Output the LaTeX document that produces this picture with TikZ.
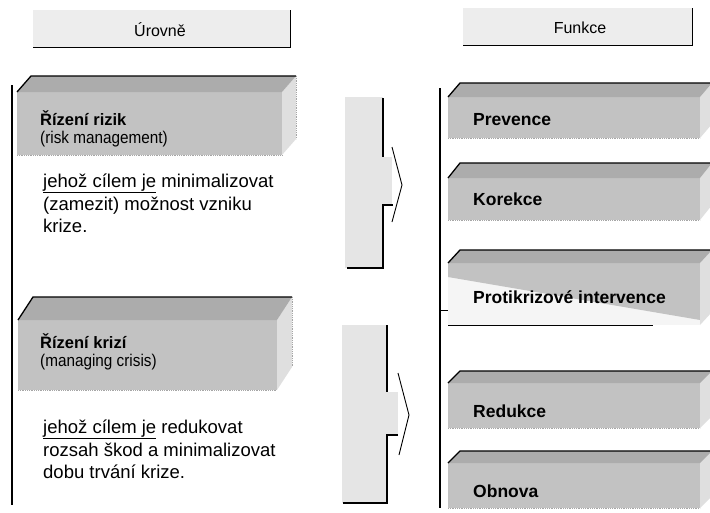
\documentclass[tikz,border=0pt]{standalone}
\usepackage{fontspec}
\setmainfont{Liberation Sans}
\newfontfamily\subfont{Liberation Sans}[FakeStretch=0.9]
\tikzset{
  topface/.style={fill=gray!65},
  frontface/.style={fill=gray!48},
  sideface/.style={fill=gray!25},
  header/.style={fill=gray!14},
  strip/.style={fill=gray!20},
  edge/.style={line width=1.3pt, black},
  thinedge/.style={line width=0.9pt, black},
  ltitle/.style={anchor=base west, inner sep=0pt, font=\fontsize{16.5}{20}\selectfont\bfseries},
  lsub/.style={anchor=base west, inner sep=0pt, font=\subfont\fontsize{17}{20}\selectfont},
  desc/.style={anchor=base west, inner sep=0pt, font=\fontsize{18.5}{23}\selectfont},
  rtitle/.style={anchor=base west, inner sep=0pt, font=\fontsize{17.5}{22}\selectfont\bfseries},
  htext/.style={anchor=base, inner sep=0pt, font=\fontsize{16}{20}\selectfont},
}
% x1 x2 yback yfront ybottom dx
\newcommand\drawslab[6]{%
  \fill[frontface] (#1,#4) rectangle (#2,#5);
  \fill[sideface] (#2,#4) -- ({#2+#6},#3) -- ({#2+#6},{#5-(#4-#3)}) -- (#2,#5) -- cycle;
  \fill[topface] (#1,#4) -- ({#1+#6},#3) -- ({#2+#6},#3) -- (#2,#4) -- cycle;
  \draw[edge] (#1,#4) -- ({#1+#6},#3) -- ({#2+#6},#3);
  \draw[gray!70, densely dotted, line width=0.8pt] (#1,#5) -- (#2,#5);
  \draw[gray!70, densely dotted, line width=0.8pt] ({#2+#6},#3) -- ({#2+#6},{#5-(#4-#3)});
}
\begin{document}
\begin{tikzpicture}[x=1pt,y=-1pt]
\useasboundingbox (0,0) rectangle (710,512);
\fill[white] (0,0) rectangle (710,512);

% ---- headers
\fill[header] (33,10) rectangle (290,47);
\draw[thinedge] (33,47) -- (290,47) -- (290,10);
\node[htext] (hU) at (160,36) {Úrovně};
\fill[header] (463,8) rectangle (692,45);
\draw[thinedge] (463,45) -- (692,45) -- (692,8);
\node[htext] (hF) at (580,33) {Funkce};

% ---- left column
\draw[line width=2.4pt] (12,85) -- (12,505);

\drawslab{17}{282}{76}{92}{155}{14}
\node[ltitle] (t1) at (40,125) {Řízení rizik};
\node[lsub] (s1) at (40,143) {(risk management)};
\node[desc] (d1a) at (43,187) {\underline{jehož cílem je} minimalizovat};
\node[desc] (d1b) at (43,210) {(zamezit) možnost vzniku};
\node[desc] (d1c) at (43,232) {krize.};

\drawslab{18}{277}{297}{320}{390}{15}
\node[ltitle] (t2) at (40,348) {Řízení krizí};
\node[lsub] (s2) at (40,366) {(managing crisis)};
\node[desc] (d2a) at (43,433) {\underline{jehož cílem je} redukovat};
\node[desc] (d2b) at (43,456) {rozsah škod a minimalizovat};
\node[desc] (d2c) at (43,478) {dobu trvání krize.};

% ---- arrows
\fill[strip] (345,97) rectangle (383,268);
\fill[strip] (383,157) rectangle (392,205);
\draw[edge] (383,98) -- (383,157);
\draw[thinedge] (392,147) -- (402,185) -- (392,222);
\draw[edge] (393,205) -- (383,205) -- (383,268) -- (347,268);

\fill[strip] (342,325) rectangle (387,503);
\fill[strip] (387,392) rectangle (398,435);
\draw[edge] (387,325) -- (387,392);
\draw[thinedge] (398,373) -- (409,415) -- (399,455);
\draw[edge] (398,435) -- (387,435) -- (387,503) -- (343,503);

% ---- right column
\draw[line width=2pt] (440,88) -- (440,508);
\draw[thinedge] (440,310) -- (448,310);

\drawslab{448}{700}{83}{97}{138}{12}
\node[rtitle] (r1) at (473,125) {Prevence};
\drawslab{448}{700}{163}{178}{220}{12}
\node[rtitle] (r2) at (473,205) {Korekce};

% Protikrizove intervence: diagonal split
\fill[gray!8] (448,263) rectangle (700,325);
\fill[frontface] (448,263) -- (700,263) -- (700,320) -- (448,277) -- cycle;
\fill[sideface] (700,263) -- (712,250) -- (712,312) -- (700,325) -- cycle;
\fill[topface] (448,263) -- (460,250) -- (712,250) -- (700,263) -- cycle;
\draw[edge] (448,263) -- (460,250) -- (712,250);
\draw[thinedge] (448,325) -- (653,325);
\node[rtitle] (r3) at (473,303) {Protikrizové intervence};

\drawslab{448}{700}{371}{383}{428}{12}
\node[rtitle] (r4) at (473,417) {Redukce};
\drawslab{448}{700}{451}{463}{508}{12}
\node[rtitle] (r5) at (473,497) {Obnova};
\end{tikzpicture}
\end{document}
